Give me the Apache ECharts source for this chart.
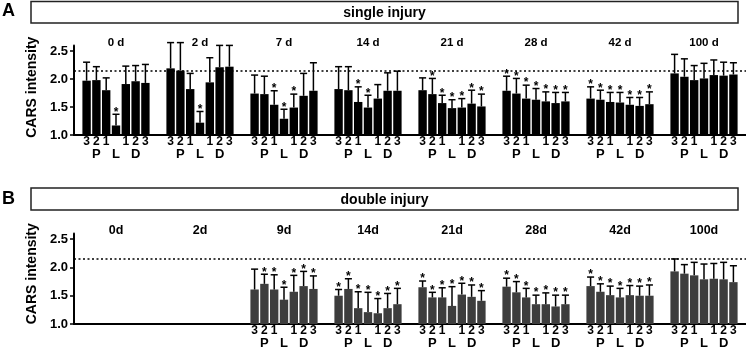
<!DOCTYPE html>
<html>
<head>
<meta charset="utf-8">
<script src="https://cdn.jsdelivr.net/npm/echarts@6/dist/echarts.min.js"></script>
<style>html,body{margin:0;padding:0;background:#fff}#c{width:746px;height:349px}</style>
</head>
<body>
<div id="c"></div>
<script>
// ---- data ----
const singleDays = ['0 d', '2 d', '7 d', '14 d', '21 d', '28 d', '42 d', '100 d'];
const doubleDays = ['0d', '2d', '9d', '14d', '21d', '28d', '42d', '100d'];
const posDigits = ['3', '2', '1', '', '1', '2', '3'];
const posLetters = ['', 'P', '', 'L', '', 'D', ''];
// order within each day: P3, P2, P1, L, D1, D2, D3
const singleMean = [
  [1.97, 1.98, 1.80, 1.17, 1.91, 1.96, 1.93],
  [2.19, 2.15, 1.82, 1.22, 1.94, 2.21, 2.22],
  [1.74, 1.73, 1.54, 1.29, 1.49, 1.70, 1.79],
  [1.82, 1.80, 1.59, 1.49, 1.65, 1.79, 1.79],
  [1.80, 1.73, 1.57, 1.48, 1.49, 1.56, 1.51],
  [1.79, 1.74, 1.65, 1.63, 1.60, 1.57, 1.60],
  [1.65, 1.63, 1.59, 1.58, 1.54, 1.52, 1.55],
  [2.10, 2.04, 1.98, 2.01, 2.07, 2.06, 2.08]
];
const singleErr = [
  [0.33, 0.24, 0.22, 0.20, 0.32, 0.28, 0.33],
  [0.46, 0.50, 0.28, 0.20, 0.44, 0.39, 0.38],
  [0.33, 0.32, 0.25, 0.17, 0.24, 0.40, 0.50],
  [0.40, 0.42, 0.27, 0.22, 0.25, 0.32, 0.35],
  [0.22, 0.28, 0.14, 0.15, 0.16, 0.24, 0.22],
  [0.26, 0.27, 0.24, 0.20, 0.17, 0.19, 0.16],
  [0.21, 0.17, 0.17, 0.18, 0.13, 0.15, 0.22],
  [0.34, 0.32, 0.26, 0.27, 0.27, 0.24, 0.21]
];
const singleStar = ['0001000', '0001000', '0011100', '0011000', '0111111', '1111111', '1111111', '0000000'];
const doubleMean = [
  null,
  null,
  [1.61, 1.71, 1.61, 1.43, 1.57, 1.67, 1.62],
  [1.50, 1.62, 1.28, 1.21, 1.19, 1.28, 1.35],
  [1.65, 1.47, 1.47, 1.32, 1.52, 1.48, 1.41],
  [1.66, 1.56, 1.47, 1.35, 1.35, 1.31, 1.35],
  [1.67, 1.57, 1.51, 1.47, 1.51, 1.50, 1.50],
  [1.93, 1.89, 1.86, 1.79, 1.80, 1.79, 1.74]
];
const doubleErr = [
  null,
  null,
  [0.36, 0.17, 0.26, 0.22, 0.29, 0.26, 0.23],
  [0.11, 0.18, 0.29, 0.35, 0.26, 0.26, 0.28],
  [0.11, 0.09, 0.17, 0.34, 0.20, 0.21, 0.18],
  [0.15, 0.19, 0.16, 0.16, 0.20, 0.20, 0.16],
  [0.16, 0.14, 0.16, 0.16, 0.17, 0.17, 0.19],
  [0.22, 0.16, 0.23, 0.27, 0.27, 0.30, 0.29]
];
const doubleStar = ['', '', '0111111', '1111111', '1111111', '1111111', '1111111', '0000000'];
const referenceLevel = 2.15;
const yTicks = [1.0, 1.5, 2.0, 2.5];

// ---- layout/style ----
const FONT = '"Liberation Sans", Arial, Helvetica, sans-serif';
const CAT_GAP = 0.20, BAR_GAP = 0.17;

const chart = echarts.init(document.getElementById('c'), null, {renderer: 'canvas'});

function yAxis(gridIndex, padLeft) {
  return {
    type: 'value', gridIndex, min: 1.0, max: 2.6, interval: 0.5, startValue: 1,
    name: 'CARS intensity', nameLocation: 'middle', nameRotate: 90, nameGap: 30,
    nameTextStyle: {fontFamily: FONT, fontWeight: 'bold', fontSize: 14, color: '#000', padding: [0, 0, 0, padLeft]},
    axisLine: {show: true, lineStyle: {color: '#000', width: 2}},
    axisTick: {show: true, inside: false, length: 4, lineStyle: {color: '#000', width: 1.5},
      customValues: yTicks},
    axisLabel: {fontFamily: FONT, fontWeight: 'bold', fontSize: 13, color: '#000', margin: 6,
      customValues: yTicks, formatter: v => v.toFixed(1)},
    splitLine: {show: false}
  };
}
function xBottom(gridIndex, days) {
  return {type: 'category', gridIndex, data: days, position: 'bottom',
    axisLine: {show: true, onZero: false, lineStyle: {color: '#000', width: 2}},
    axisTick: {show: false}, axisLabel: {show: false}, splitLine: {show: false}};
}
function xTop(gridIndex, days, size, margin) {
  return {type: 'category', gridIndex, data: days, position: 'top',
    axisLine: {show: false}, axisTick: {show: false}, splitLine: {show: false},
    axisLabel: {fontFamily: FONT, fontWeight: 'bold', fontSize: size, color: '#000', margin, interval: 0}};
}

function barSeries(means, xi, yi, color) {
  const out = [];
  for (let k = 0; k < 7; k++) {
    let fmt;
    if (posLetters[k]) fmt = '{d|' + (posDigits[k] || ' ') + '}\n{l|' + posLetters[k] + '}';
    else fmt = '{d|' + posDigits[k] + '}';
    out.push({
      type: 'bar', xAxisIndex: xi, yAxisIndex: yi,
      data: means.map(g => (g ? g[k] : '-')),
      barGap: (BAR_GAP * 100) + '%', barCategoryGap: (CAT_GAP * 100) + '%',
      itemStyle: {color}, silent: true, animation: false,
      label: {show: true, position: 'bottom', distance: 1, formatter: fmt, color: '#000',
        rich: {
          d: {fontFamily: FONT, fontWeight: 'bold', fontSize: 12, lineHeight: 12, color: '#000'},
          l: {fontFamily: FONT, fontWeight: 'bold', fontSize: 13, lineHeight: 13, color: '#000'}
        }},
      markLine: k === 0 ? {silent: true, symbol: ['none', 'none'], label: {show: false},
        lineStyle: {type: [2, 2.5], color: '#000', width: 1.5}, animation: false,
        data: [{yAxis: referenceLevel}]} : undefined
    });
  }
  return out;
}

function errData(means, errs, stars) {
  const d = [];
  means.forEach((g, c) => {
    if (!g) return;
    for (let k = 0; k < 7; k++) d.push([c, k, g[k], errs[c][k], stars[c][k] === '1' ? 1 : 0]);
  });
  return d;
}

function renderErr(params, api) {
  const c = api.value(0), k = api.value(1), m = api.value(2), s = api.value(3), st = api.value(4);
  const band = api.size([1, 0])[0];
  const bw = band * (1 - CAT_GAP) / (7 + 6 * BAR_GAP);
  const pitch = bw * (1 + BAR_GAP);
  const base = api.coord([c, m]);
  const top = api.coord([c, m + s]);
  const x = base[0] + (k - 3) * pitch;
  const half = bw * 0.42;
  const stroke = {stroke: '#000', lineWidth: 1.5};
  const children = [
    {type: 'line', shape: {x1: x, y1: base[1], x2: x, y2: top[1]}, style: stroke},
    {type: 'line', shape: {x1: x - half, y1: top[1], x2: x + half, y2: top[1]}, style: stroke}
  ];
  if (st) children.push({type: 'text', x: x, y: top[1] + 4,
    style: {text: '*', fill: '#000', font: 'bold 12px ' + FONT, textAlign: 'center', textVerticalAlign: 'bottom'}});
  return {type: 'group', children};
}

const option = {
  animation: false,
  title: [
    {text: 'A', left: 2, top: 2, padding: 0, textStyle: {fontFamily: FONT, fontWeight: 'bold', fontSize: 18, color: '#000'}},
    {text: 'B', left: 2, top: 190, padding: 0, textStyle: {fontFamily: FONT, fontWeight: 'bold', fontSize: 18, color: '#000'}}
  ],
  graphic: [
    {type: 'rect', shape: {x: 31, y: 1.5, width: 707, height: 21.5}, style: {fill: '#fff', stroke: '#222', lineWidth: 1.5}},
    {type: 'text', x: 384.5, y: 13, style: {text: 'single injury', font: 'bold 14px ' + FONT, fill: '#000', textAlign: 'center', textVerticalAlign: 'middle'}},
    {type: 'rect', shape: {x: 31, y: 188, width: 707, height: 22}, style: {fill: '#fff', stroke: '#222', lineWidth: 1.5}},
    {type: 'text', x: 384.5, y: 200, style: {text: 'double injury', font: 'bold 14px ' + FONT, fill: '#000', textAlign: 'center', textVerticalAlign: 'middle'}}
  ],
  grid: [
    {left: 74, right: 0, top: 45.4, height: 89.6, containLabel: false},
    {left: 74, right: 0, top: 233.5, height: 90.5, containLabel: false}
  ],
  xAxis: [
    xBottom(0, singleDays), xTop(0, singleDays, 11.5, -3),
    xBottom(1, doubleDays), xTop(1, doubleDays, 12.5, -4)
  ],
  yAxis: [yAxis(0, 6), yAxis(1, 10)],
  series: [
    ...barSeries(singleMean, 0, 0, '#000'),
    ...barSeries(doubleMean, 2, 1, '#3d3d3d'),
    {type: 'custom', xAxisIndex: 0, yAxisIndex: 0, renderItem: renderErr, data: errData(singleMean, singleErr, singleStar), z: 5, silent: true, clip: false},
    {type: 'custom', xAxisIndex: 2, yAxisIndex: 1, renderItem: renderErr, data: errData(doubleMean, doubleErr, doubleStar), z: 5, silent: true, clip: false}
  ]
};
chart.setOption(option);
</script>
</body>
</html>
